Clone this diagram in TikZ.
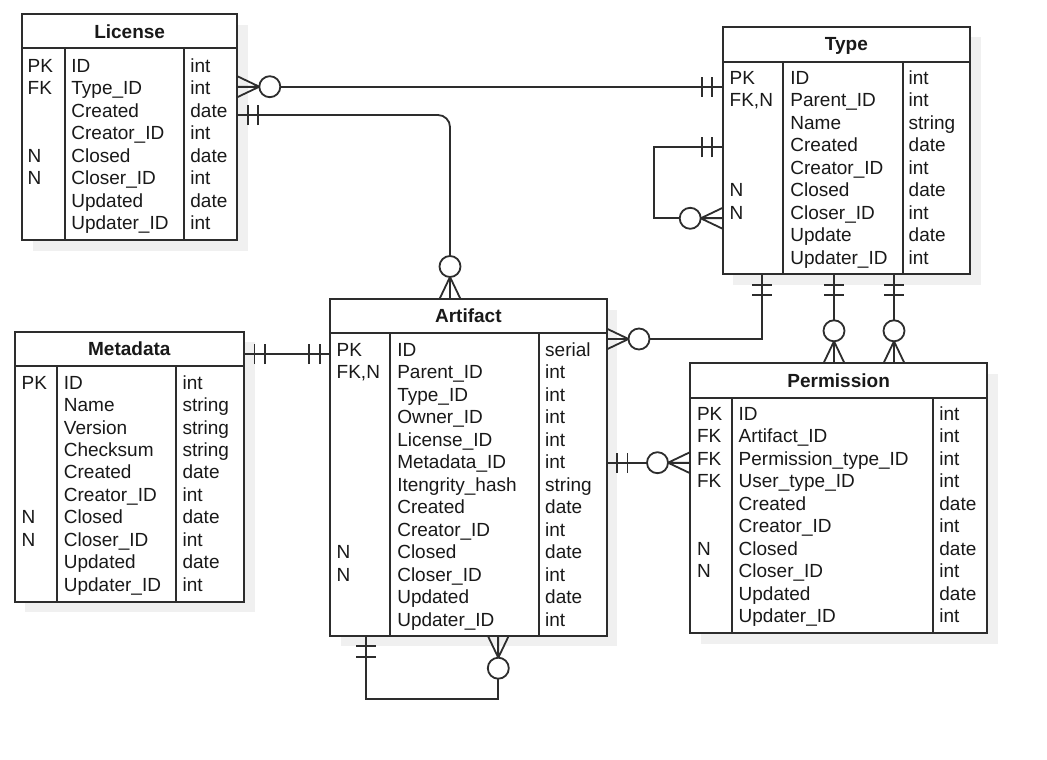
\documentclass[tikz,border=0pt]{standalone}
\usepackage{fontspec}
\setmainfont{Liberation Sans}
\usetikzlibrary{fit,shadows}
\definecolor{lc}{RGB}{45,45,45}
\definecolor{tc}{RGB}{25,25,25}
\definecolor{shc}{RGB}{240,240,240}
\tikzset{
  tbl/.style={draw=lc, line width=2pt, fill=white, inner sep=0pt, outer sep=0pt,
    general shadow={fill=shc, shadow xshift=10.5pt, shadow yshift=-10.5pt}},
  tline/.style={draw=lc, line width=2pt},
  conn/.style={draw=lc, line width=1.8pt},
  ttl/.style={anchor=base, inner sep=0pt, text=tc, font=\bfseries\fontsize{19}{22}\selectfont},
  cell/.style={anchor=base west, inner sep=0pt, text=tc, font=\fontsize{19}{22}\selectfont},
  dirR/.style={x={(1pt,0pt)}, y={(0pt,1pt)}},
  dirL/.style={x={(-1pt,0pt)}, y={(0pt,1pt)}},
  dirD/.style={x={(0pt,-1pt)}, y={(1pt,0pt)}},
  dirU/.style={x={(0pt,1pt)}, y={(1pt,0pt)}},
}
% #1 name, #2 title, #3 left, #4 top, #5 right, #6 bottom, #7 header line, #8 divider 1, #9 divider 2
\newcommand\ertable[9]{%
  \node[tbl, fit={(#3,#4) (#5,#6)}] (#1) {};
  \node[ttl] (#1-title) at ({(#3+#5)/2},{(#4+#7)/2+6.8}) {#2};
  \draw[tline] (#1.west |- 0,#7) -- (#1.east |- 0,#7)
    (#8,#7) -- (#1.south -| #8,0) (#9,#7) -- (#1.south -| #9,0);
}
% #1 name, #2 key x, #3 name x, #4 type x, #5 first baseline, #6 step, #7 rows
\newcommand\errows[7]{%
  \foreach \k/\n/\t [count=\i from 0] in {#7} {
    \node[cell] (#1-k\i) at (#2,{#5+\i*#6}) {\k};
    \node[cell] (#1-n\i) at (#3,{#5+\i*#6}) {\n};
    \node[cell] (#1-t\i) at (#4,{#5+\i*#6}) {\t};
  }%
}
\newcommand\mone[2]{%
  \begin{scope}[shift={(#1)}, #2]
    \draw[conn] (10.5,-10) -- (10.5,10) (21,-10) -- (21,10);
  \end{scope}}
\newcommand\zmany[2]{%
  \begin{scope}[shift={(#1)}, #2]
    \draw[conn] (0,-10.5) -- (22,0) -- (0,10.5) (0,0) -- (22,0);
    \draw[conn, fill=white] (32.5,0) circle (10.5pt);
  \end{scope}}
\begin{document}
\begin{tikzpicture}[x=1pt, y=-1pt]
\fill[white] (0,0) rectangle (1047,760);
\path[use as bounding box] (0,0) rectangle (1047,760);

% ---------- tables ----------
\ertable{license}{License}{22}{14.5}{237.3}{240}{48}{64.5}{183.5}
\errows{license}{27.5}{71.2}{190.2}{72.5}{22.45}{%
  PK/ID/int, FK/Type\_ID/int, /Created/date, /Creator\_ID/int,
  N/Closed/date, N/Closer\_ID/int, /Updated/date, /Updater\_ID/int}

\ertable{type}{Type}{722.7}{26.7}{970}{274.3}{61.7}{783.3}{902.7}
\errows{type}{729.5}{790.2}{908.5}{84.5}{22.45}{%
  PK/ID/int, {FK,N}/Parent\_ID/int, /Name/string, /Created/date, /Creator\_ID/int,
  N/Closed/date, N/Closer\_ID/int, /Update/date, /Updater\_ID/int}

\ertable{artifact}{Artifact}{330.2}{299}{606.5}{635.7}{332.7}{390.3}{539}
\errows{artifact}{336.5}{397.1}{545}{356.1}{22.5}{%
  PK/ID/serial, {FK,N}/Parent\_ID/int, /Type\_ID/int, /Owner\_ID/int, /License\_ID/int,
  /Metadata\_ID/int, /Itengrity\_hash/string, /Created/date, /Creator\_ID/int,
  N/Closed/date, N/Closer\_ID/int, /Updated/date, /Updater\_ID/int}

\ertable{metadata}{Metadata}{14.6}{331.7}{244}{601.7}{366}{57.3}{176.4}
\errows{metadata}{21.5}{63.7}{182.4}{389.1}{22.45}{%
  PK/ID/int, /Name/string, /Version/string, /Checksum/string, /Created/date,
  /Creator\_ID/int, N/Closed/date, N/Closer\_ID/int, /Updated/date, /Updater\_ID/int}

\ertable{permission}{Permission}{690}{363.3}{987.3}{633.3}{397.7}{732.3}{933.3}
\errows{permission}{696.8}{738.5}{939.2}{420.1}{22.49}{%
  PK/ID/int, FK/Artifact\_ID/int, FK/Permission\_type\_ID/int, FK/User\_type\_ID/int,
  /Created/date, /Creator\_ID/int, N/Closed/date, N/Closer\_ID/int,
  /Updated/date, /Updater\_ID/int}

% ---------- connection points ----------
\coordinate (c1a) at (license.east |- 0,86.7);
\coordinate (c1b) at (type.west |- 0,86.7);
\coordinate (c2a) at (license.east |- 0,115);
\coordinate (c2b) at (artifact.north -| 450,0);
\coordinate (c3a) at (type.west |- 0,147.3);
\coordinate (c3b) at (type.west |- 0,218.3);
\coordinate (c4a) at (type.south -| 762.3,0);
\coordinate (c4b) at (artifact.east |- 0,339);
\coordinate (c5a) at (type.south -| 834,0);
\coordinate (c5b) at (permission.north -| 834,0);
\coordinate (c6a) at (type.south -| 894,0);
\coordinate (c6b) at (permission.north -| 894,0);
\coordinate (c7a) at (metadata.east |- 0,354);
\coordinate (c7b) at (artifact.west |- 0,354);
\coordinate (c8a) at (artifact.east |- 0,462.7);
\coordinate (c8b) at (permission.west |- 0,462.7);
\coordinate (c9a) at (artifact.south -| 366,0);
\coordinate (c9b) at (artifact.south -| 498.3,0);

% ---------- connectors ----------
\draw[conn] (c1a) -- (c1b);
\draw[conn, rounded corners=12pt] (c2a) -- (c2a -| c2b) -- (c2b);
\draw[conn] (c3a) -- ++(-68.7,0) |- (c3b);
\draw[conn] (c4a) |- (c4b);
\draw[conn] (c5a) -- (c5b);
\draw[conn] (c6a) -- (c6b);
\draw[conn] (c7a) -- (c7b);
\draw[conn] (c8a) -- (c8b);
\draw[conn] (c9a) -- ++(0,63.3) -| (c9b);

% ---------- ends ----------
\zmany{c1a}{dirR} \mone{c1b}{dirL}
\mone{c2a}{dirR}  \zmany{c2b}{dirU}
\mone{c3a}{dirL}  \zmany{c3b}{dirL}
\mone{c4a}{dirD}  \zmany{c4b}{dirR}
\mone{c5a}{dirD}  \zmany{c5b}{dirU}
\mone{c6a}{dirD}  \zmany{c6b}{dirU}
\mone{c7a}{dirR}  \mone{c7b}{dirL}
\mone{c8a}{dirR}  \zmany{c8b}{dirL}
\mone{c9a}{dirD}  \zmany{c9b}{dirD}
\end{tikzpicture}
\end{document}
